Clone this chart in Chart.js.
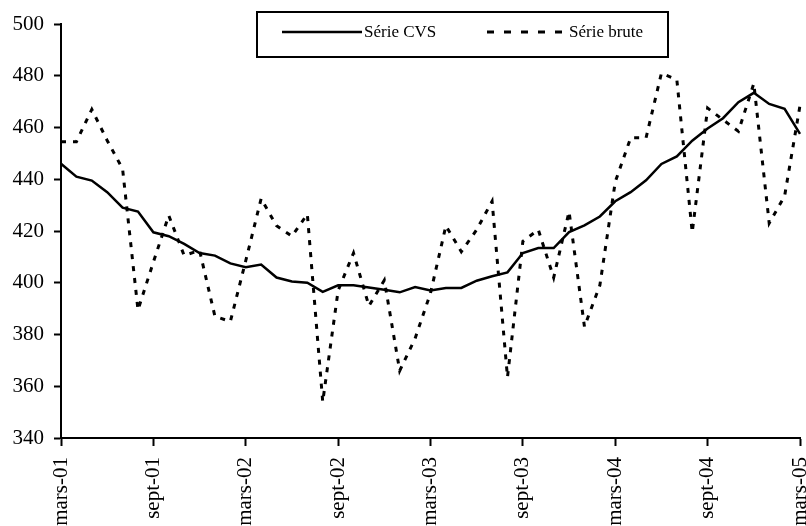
<!DOCTYPE html>
<html>
<head>
<meta charset="utf-8">
<script src="https://cdn.jsdelivr.net/npm/chart.js@4/dist/chart.umd.min.js"></script>
<style>
html,body{margin:0;padding:0;background:#fff;overflow:hidden;}
#wrap{position:relative;width:806px;height:526px;}
</style>
</head>
<body>
<div id="wrap"><canvas id="c" width="806" height="526"></canvas></div>
<script>
const months = [
 "mars-01","avr-01","mai-01","juin-01","juil-01","août-01","sept-01","oct-01","nov-01","déc-01","janv-02","févr-02",
 "mars-02","avr-02","mai-02","juin-02","juil-02","août-02","sept-02","oct-02","nov-02","déc-02","janv-03","févr-03",
 "mars-03","avr-03","mai-03","juin-03","juil-03","août-03","sept-03","oct-03","nov-03","déc-03","janv-04","févr-04",
 "mars-04","avr-04","mai-04","juin-04","juil-04","août-04","sept-04","oct-04","nov-04","déc-04","janv-05","févr-05",
 "mars-05"
];
const serieCVS = [
 446, 441, 439.5, 435, 429, 427.5, 419.5, 418, 415, 411.5, 410.5, 407.5,
 406, 407, 402, 400.5, 400, 396.5, 399, 399, 398.2, 397.3, 396.3, 398.3,
 397, 398, 398, 400.8, 402.5, 404, 411.5, 413.4, 413.4, 419.6, 422.2, 425.6,
 431.5, 435, 439.6, 445.9, 448.8, 454.9, 459.6, 463.6, 469.8, 473.4, 469.1, 467.2,
 457.5
];
const serieBrute = [
 454.5, 454.5, 467, 455, 444, 389.5, 408, 426, 410.5, 412.5, 387, 385,
 408.5, 432.5, 422, 418, 426.5, 354, 397, 411.5, 391, 401, 366, 378.5,
 396, 422, 412, 420.5, 431.5, 363.5, 416, 420.5, 402, 427.5, 383, 399,
 439, 456, 456, 481, 478.5, 419.5, 467.5, 463, 458.5, 477, 423, 433.5,
 468.5
];
const seriesNames = ["Série CVS", "Série brute"];
const yTicksMin = 340, yTicksMax = 500, yStep = 20;
const labelEvery = 6;

const FONT = "'Liberation Serif', 'Times New Roman', serif";

const legendPlugin = {
  id: 'boxLegend',
  afterDraw(chart) {
    const ctx = chart.ctx;
    ctx.save();
    ctx.strokeStyle = '#000';
    ctx.lineWidth = 2;
    ctx.fillStyle = '#fff';
    ctx.fillRect(257, 12, 411, 45);
    ctx.strokeRect(257, 12, 411, 45);
    ctx.lineWidth = 2.5;
    ctx.setLineDash([]);
    ctx.beginPath(); ctx.moveTo(282, 32); ctx.lineTo(362, 32); ctx.stroke();
    ctx.lineWidth = 3;
    ctx.setLineDash([7, 10]);
    ctx.beginPath(); ctx.moveTo(487, 32); ctx.lineTo(568, 32); ctx.stroke();
    ctx.setLineDash([]);
    ctx.fillStyle = '#000';
    ctx.font = "17px " + FONT;
    ctx.textBaseline = 'middle';
    ctx.textAlign = 'left';
    ctx.fillText(seriesNames[0], 364, 33);
    ctx.fillText(seriesNames[1], 569, 33);
    ctx.restore();
  }
};

new Chart(document.getElementById('c'), {
  type: 'line',
  data: {
    labels: months,
    datasets: [
      { label: seriesNames[0], data: serieCVS, borderColor: '#000', borderWidth: 2.5,
        pointRadius: 0, tension: 0, fill: false },
      { label: seriesNames[1], data: serieBrute, borderColor: '#000', borderWidth: 3,
        borderDash: [5, 7], pointRadius: 0, tension: 0, fill: false }
    ]
  },
  options: {
    responsive: false,
    animation: false,
    devicePixelRatio: 1,
    layout: { padding: { top: 24, right: 6, left: 0, bottom: 0 } },
    plugins: { legend: { display: false }, tooltip: { enabled: false } },
    scales: {
      x: {
        type: 'category',
        offset: false,
        grid: {
          display: true, drawOnChartArea: false, drawTicks: true, tickLength: 8, tickWidth: 2,
          tickColor: (c) => (c.index % labelEvery === 0 ? '#000' : 'rgba(0,0,0,0)')
        },
        border: { display: true, color: '#000', width: 2 },
        ticks: {
          autoSkip: false, minRotation: 90, maxRotation: 90, padding: 11, color: '#000',
          font: { family: FONT, size: 21 },
          callback: function(v, i) { return i % labelEvery === 0 ? this.getLabelForValue(v) : ''; }
        },
        afterFit(scale) { scale.height = 88; scale.paddingLeft = 0; scale.paddingRight = 0; }
      },
      y: {
        min: yTicksMin, max: yTicksMax,
        grid: { display: true, drawOnChartArea: false, drawTicks: true, tickLength: 7, tickWidth: 2, tickColor: '#000' },
        border: { display: true, color: '#000', width: 2 },
        ticks: { stepSize: yStep, padding: 10, color: '#000', font: { family: FONT, size: 21 } },
        afterFit(scale) { scale.width = 61; scale.paddingTop = 0; scale.paddingBottom = 0; }
      }
    }
  },
  plugins: [legendPlugin]
});
</script>
</body>
</html>
